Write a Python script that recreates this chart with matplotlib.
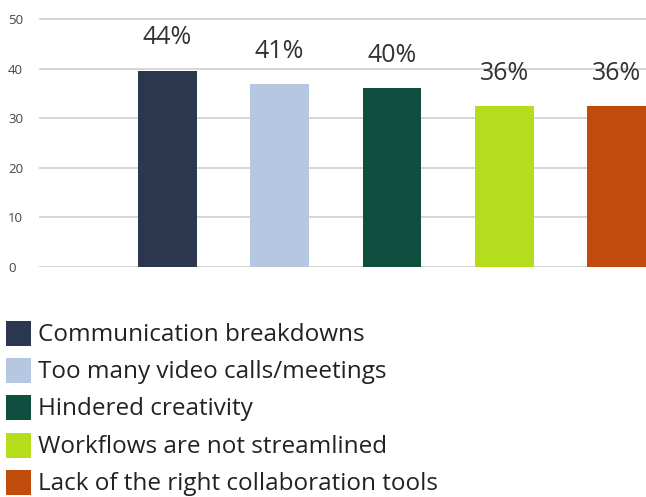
import matplotlib
matplotlib.use("Agg")
import matplotlib.pyplot as plt
from matplotlib.patches import Rectangle

# Survey results: share of respondents naming each collaboration problem
categories = [
    "Communication breakdowns",
    "Too many video calls/meetings",
    "Hindered creativity",
    "Workflows are not streamlined",
    "Lack of the right collaboration tools",
]
percent = [44, 41, 40, 36, 36]
tick_values = [0, 10, 20, 30, 40, 50]
colors = ["#2a374e", "#b5c7e1", "#104f3f", "#b6dc1e", "#c14b0d"]

# the printed axis runs on a 0.9 scale relative to the percentages
axis_scale = 0.9

plt.rcParams["font.family"] = ["Open Sans", "DejaVu Sans"]

W, H = 646, 497
fig = plt.figure(figsize=(W / 100, H / 100), dpi=100)

# plot area in pixel terms
left_px, bottom_px = 39, 267
px_per_tick = 49.6  # pixels per 10 axis units
ax = fig.add_axes([left_px / W, 1 - bottom_px / H, 1 - left_px / W, bottom_px / H])

x = list(range(len(categories)))
bar_w = 0.523
bars = ax.bar(x, percent, width=bar_w, color=colors, zorder=3)

# x range so the first bar sits one slot in from the axis
slot_px = 112.3
first_center_px = 167.3
ax.set_xlim((left_px - first_center_px) / slot_px, (W - first_center_px) / slot_px)
units_per_px = (10 / axis_scale) / px_per_tick
ax.set_ylim(0, bottom_px * units_per_px)

ax.set_yticks([t / axis_scale for t in tick_values], labels=[str(t) for t in tick_values])
ax.tick_params(axis="y", length=0, pad=22.3, labelsize=9.5, labelcolor="#444444")
for lbl in ax.get_yticklabels():
    lbl.set_horizontalalignment("left")
ax.set_xticks([])
ax.grid(axis="y", color="#cccccc", linewidth=1.1, zorder=0)
ax.set_axisbelow(True)
for s in ax.spines.values():
    s.set_visible(False)
ax.patch.set_alpha(0)

for xi, v in zip(x, percent):
    ax.annotate(f"{v}%", (xi, v), xytext=(0, 23.5), textcoords="offset points",
                ha="center", va="center", fontsize=18, color="#333333")

# legend drawn as a vertical list of swatches below the chart
row0_center = 333.5
row_step = 37.2
sw = 25
for i, (name, c) in enumerate(zip(categories, colors)):
    cy = row0_center + i * row_step
    fig.patches.append(Rectangle((6 / W, 1 - (cy + sw / 2) / H), sw / W, sw / H,
                                 transform=fig.transFigure, facecolor=c,
                                 edgecolor="none"))
    fig.text(37.5 / W, 1 - (cy + 1.5) / H, name, ha="left", va="center",
             fontsize=17.5, color="#222222")

fig.savefig("out.png", dpi=100)
